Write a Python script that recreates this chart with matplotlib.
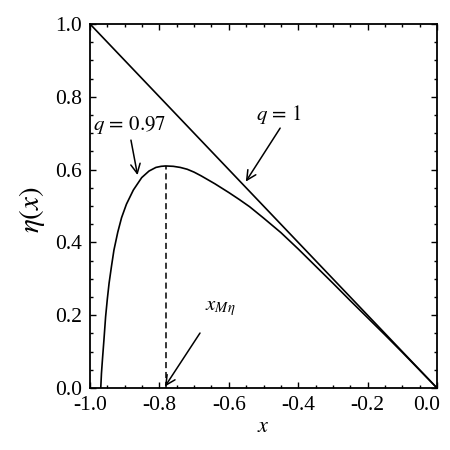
import matplotlib
matplotlib.use("Agg")
import matplotlib.pyplot as plt
from matplotlib.ticker import MultipleLocator
import matplotlib.transforms as mtransforms

plt.rcParams['font.family'] = ['Liberation Serif', 'DejaVu Serif']
plt.rcParams['mathtext.fontset'] = 'stix'
plt.rcParams['axes.unicode_minus'] = False

# q = 1 line endpoints
line_x = [-1.0, 0.0]
line_eta = [1.0, 0.0]

# q = 0.97 curve
curve_x = [-0.969, -0.967, -0.964, -0.960, -0.955, -0.950, -0.945, -0.938, -0.931,
           -0.920, -0.909, -0.895, -0.875, -0.851, -0.830, -0.810, -0.795, -0.782,
           -0.760, -0.740, -0.720, -0.700, -0.680, -0.660, -0.640, -0.620, -0.600,
           -0.570, -0.540, -0.500, -0.450, -0.400, -0.350, -0.300, -0.250, -0.200,
           -0.150, -0.100, -0.050, 0.0]
curve_eta = [0.0, 0.04, 0.08, 0.13, 0.196, 0.245, 0.288, 0.335, 0.379,
             0.428, 0.468, 0.505, 0.544, 0.578, 0.596, 0.606, 0.609, 0.610,
             0.609, 0.606, 0.601, 0.593, 0.583, 0.572, 0.561, 0.549, 0.537,
             0.518, 0.498, 0.467, 0.427, 0.382, 0.335, 0.288, 0.240, 0.193,
             0.146, 0.098, 0.049, 0.0]

x_max_eta = -0.782
eta_max = 0.610

xticks = [-1.0, -0.8, -0.6, -0.4, -0.2, 0.0]
yticks = [0.0, 0.2, 0.4, 0.6, 0.8, 1.0]

fig = plt.figure(figsize=(4.5, 4.5), dpi=100)
ax = fig.add_axes([0.2, 1 - 388 / 450, (437 - 90) / 450, (388 - 24) / 450])

ax.plot(line_x, line_eta, color='black', lw=1.2)
ax.plot(curve_x, curve_eta, color='black', lw=1.2)
ax.plot([x_max_eta, x_max_eta], [0, eta_max], color='black', lw=1.1,
        linestyle=(0, (4, 2.5)))

ax.set_xlim(-1.0, 0.0)
ax.set_ylim(0.0, 1.0)
ax.set_xticks(xticks)
ax.set_yticks(yticks)
ax.set_xticklabels(['%.1f' % v for v in xticks])
ax.set_yticklabels(['%.1f' % v for v in yticks])
ax.xaxis.set_minor_locator(MultipleLocator(0.05))
ax.yaxis.set_minor_locator(MultipleLocator(0.05))
ax.tick_params(which='both', direction='in', top=True, right=True,
               labelsize=15.5, width=1.0, pad=6)
ax.tick_params(which='major', length=4)
ax.tick_params(which='minor', length=2.5)
for s in ax.spines.values():
    s.set_linewidth(1.3)

# shift last x tick label slightly left like the reference
lbls = ax.get_xticklabels()
off = mtransforms.ScaledTranslation(-10 / 100, 0, fig.dpi_scale_trans)
lbls[-1].set_transform(lbls[-1].get_transform() + off)

ax.set_xlabel(r'$x$', fontsize=16, labelpad=2)
ax.set_ylabel(r'$\eta(x)$', fontsize=21)
ax.yaxis.set_label_coords(-0.125, 0.49)

arrow = dict(arrowstyle='->', color='black', lw=1.1, mutation_scale=17,
             shrinkA=0, shrinkB=0)
ax.annotate('', xy=(-0.863, 0.585), xytext=(-0.882, 0.681), arrowprops=arrow)
ax.text(-0.885, 0.722, r'$q\,=\,0.97$', fontsize=15, ha='center', va='center')
ax.annotate('', xy=(-0.551, 0.567), xytext=(-0.452, 0.714), arrowprops=arrow)
ax.text(-0.455, 0.75, r'$q\,=\,1$', fontsize=15, ha='center', va='center')
ax.annotate('', xy=(-0.784, 0.004), xytext=(-0.683, 0.151), arrowprops=arrow)
ax.text(-0.669, 0.214, r'$x_{M\eta}$', fontsize=15, ha='left', va='baseline')

fig.savefig('out.png', dpi=100)
